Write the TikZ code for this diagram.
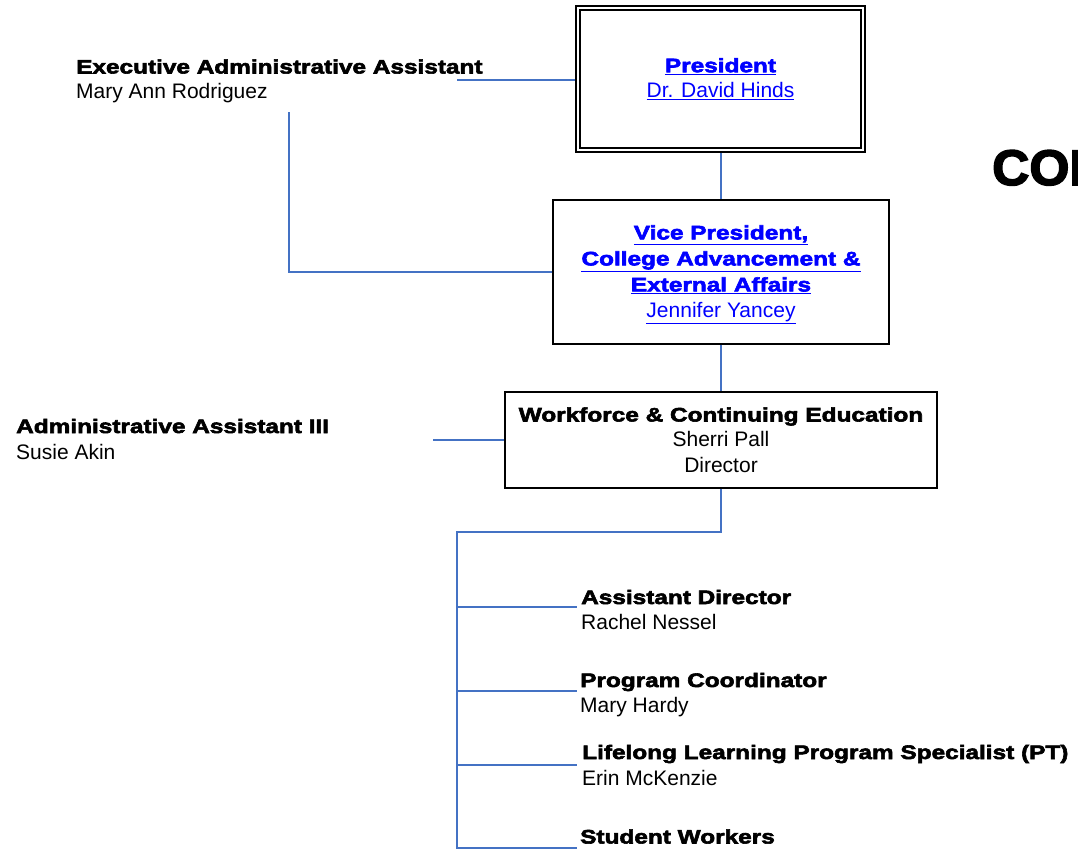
\documentclass[tikz,border=0pt]{standalone}
\usepackage{fontspec}
\setmainfont{Liberation Sans}
\newfontfamily\heavyfont{Liberation Sans}[FakeStretch=1.25,BoldFeatures={FakeBold=3}]
\newfontfamily\cofont{Liberation Sans}[FakeStretch=1.03,BoldFeatures={FakeBold=3}]
\definecolor{connblue}{HTML}{4472C4}
\definecolor{linkblue}{HTML}{0000FF}
\newcommand\ttlf{\heavyfont\bfseries\fontsize{19.5}{25.5}\selectfont}
\newcommand\nmf{\fontsize{21}{25.5}\selectfont}
\tikzset{
  conn/.style={draw=connblue, line width=1.6pt},
  orgbox/.style={draw=black, line width=1.5pt, rectangle, inner sep=0pt, align=center, font=\nmf},
  ttl/.style={font=\ttlf, inner sep=0pt, anchor=base west},
  nm/.style={font=\nmf, inner sep=0pt, anchor=base west},
}
\begin{document}
\begin{tikzpicture}[x=1pt,y=-1pt]
\path[use as bounding box, clip] (0,0) rectangle (1078,850);
\fill[white] (0,0) rectangle (1078,850);

% boxes
\node[orgbox, double, double distance=2pt, line width=2pt, outer sep=3pt,
      minimum width=285pt, minimum height=142pt, text=linkblue] (pres) at (720.5,79)
  {{\ttlf\underline{President}}\\\underline{Dr. David Hinds}};
\node[orgbox, minimum width=336pt, minimum height=144pt, text=linkblue,
      font=\fontsize{21}{26}\selectfont] (vp) at (721,272) {};
\node[inner sep=0pt, align=center, text=linkblue, font=\fontsize{21}{26}\selectfont] (vpt) at (721,274.5)
  {{\ttlf\fontsize{19.5}{26}\selectfont\underline{Vice President,}}\\{\ttlf\fontsize{19.5}{26}\selectfont\underline{College Advancement \&}}\\{\ttlf\fontsize{19.5}{26}\selectfont\underline{External Affairs}}\\\underline{Jennifer Yancey}};
\node[orgbox, minimum width=432pt, minimum height=96pt] (wf) at (721,440)
  {{\ttlf Workforce \& Continuing Education}\\Sherri Pall\\Director};

% side texts
\node[ttl] (eaT) at (76,73.5) {Executive Administrative Assistant};
\node[nm] (eaN) at (76,98.5) {Mary Ann Rodriguez};
\node[ttl] (aaT) at (16,433) {Administrative Assistant III};
\node[nm] (aaN) at (16,459) {Susie Akin};

\node[ttl] (adT) at (581,604) {Assistant Director};
\node[nm] (adN) at (581,629) {Rachel Nessel};
\node[ttl] (pcT) at (580,687) {Program Coordinator};
\node[nm] (pcN) at (580,712) {Mary Hardy};
\node[ttl] (llT) at (582,759) {Lifelong Learning Program Specialist (PT)};
\node[nm] (llN) at (582,785) {Erin McKenzie};
\node[ttl] (swT) at (580,843.5) {Student Workers};

\node[anchor=base west, inner sep=0pt, font=\cofont\bfseries\fontsize{50}{52}\selectfont] (co) at (992,185) {COL};

% connectors
\coordinate (eaEnd) at (457,80);
\coordinate (eaTop) at (289,112);
\coordinate (aaEnd) at (433,440);
\coordinate (j) at (457,532);
\coordinate (b1) at (577,607);
\coordinate (b2) at (577,691);
\coordinate (b3) at (577,765);
\coordinate (b4) at (577,848);

\draw[conn] (eaEnd) -- (pres.west |- eaEnd);
\draw[conn] (vp.west) -| (eaTop);
\draw[conn] (pres.south -| vp.north) -- (vp.north);
\draw[conn] (vp.south) -- (wf.north);
\draw[conn] (aaEnd) -- (wf.west);
\draw[conn] (wf.south) |- (j) |- (b4);
\draw[conn] (j |- b1) -- (b1);
\draw[conn] (j |- b2) -- (b2);
\draw[conn] (j |- b3) -- (b3);
\end{tikzpicture}
\end{document}
